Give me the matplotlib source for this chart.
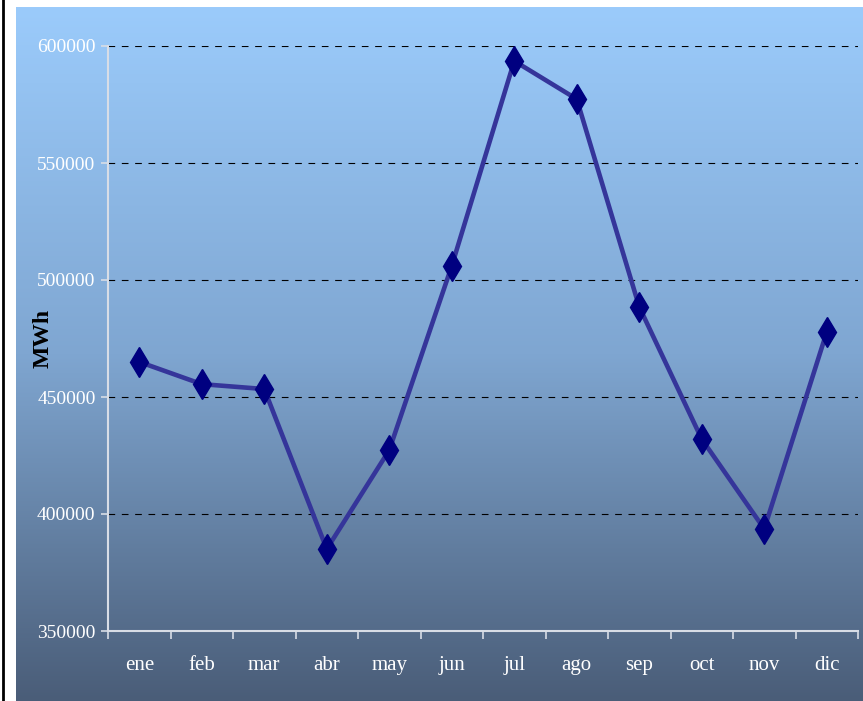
import matplotlib.pyplot as plt
import numpy as np
from matplotlib.colors import LinearSegmentedColormap

# monthly energy, MWh
months = ['ene', 'feb', 'mar', 'abr', 'may', 'jun', 'jul', 'ago', 'sep', 'oct', 'nov', 'dic']
mwh = [465000, 455500, 453400, 385000, 427300, 506000, 593600, 577300, 488500, 432000, 393600, 477800]
yticks = [350000, 400000, 450000, 500000, 550000, 600000]

W, H = 863, 701
fig = plt.figure(figsize=(W / 100, H / 100), dpi=100)
fig.patch.set_facecolor('white')

# gradient panel behind the chart
bg = fig.add_axes([16 / W, 0, 1 - 16 / W, 1 - 7 / H])
grad = LinearSegmentedColormap.from_list('g', ['#9bcbfb', '#7fa6d1', '#4a5d78'])
bg.imshow(np.linspace(0, 1, 256).reshape(-1, 1), aspect='auto', cmap=grad,
          extent=[0, 1, 0, 1])
bg.set_axis_off()

# black rule at the far left
line_ax = fig.add_axes([0, 0, 1, 1])
line_ax.set_axis_off()
line_ax.set_xlim(0, W)
line_ax.set_ylim(H, 0)
line_ax.plot([3, 3], [0, H], color='black', lw=2)

ax = fig.add_axes([108 / W, 1 - 631 / H, 750 / W, 585 / H])
ax.patch.set_alpha(0)

x = np.arange(len(months))
ax.plot(x, mwh, color='#35359a', lw=3.3, zorder=3)
ax.plot(x, mwh, linestyle='none', marker='d', markersize=15,
        color='#000080', zorder=4)

ax.set_xlim(-0.5, len(months) - 0.5)
ax.set_ylim(350000, 600000)
ax.set_yticks(yticks)
ax.set_yticklabels([str(v) for v in yticks])
ax.set_xticks(x)
ax.set_xticklabels(months)
ax.set_xticks(np.arange(-0.5, len(months)), minor=True)

ax.yaxis.grid(True, color='black', linestyle=(0, (6, 6)), lw=0.8)
ax.set_axisbelow(True)

for s in ['top', 'right']:
    ax.spines[s].set_visible(False)
for s in ['left', 'bottom']:
    ax.spines[s].set_color('#d8dde6')
    ax.spines[s].set_linewidth(1.5)

ax.tick_params(axis='y', colors='#d8dde6', length=5, width=1.2,
               labelcolor='white', labelsize=14, pad=4)
ax.tick_params(axis='x', which='major', length=0, labelcolor='white',
               labelsize=15, pad=18)
ax.tick_params(axis='x', which='minor', colors='#d8dde6', length=6, width=1.2)
for lab in ax.get_xticklabels() + ax.get_yticklabels():
    lab.set_family('Liberation Serif')

ax.set_ylabel('MWh', family='Liberation Serif', fontsize=17,
              fontweight='bold', color='black')
ax.yaxis.set_label_coords(-0.072, 0.5)

fig.savefig('out.png', dpi=100)
